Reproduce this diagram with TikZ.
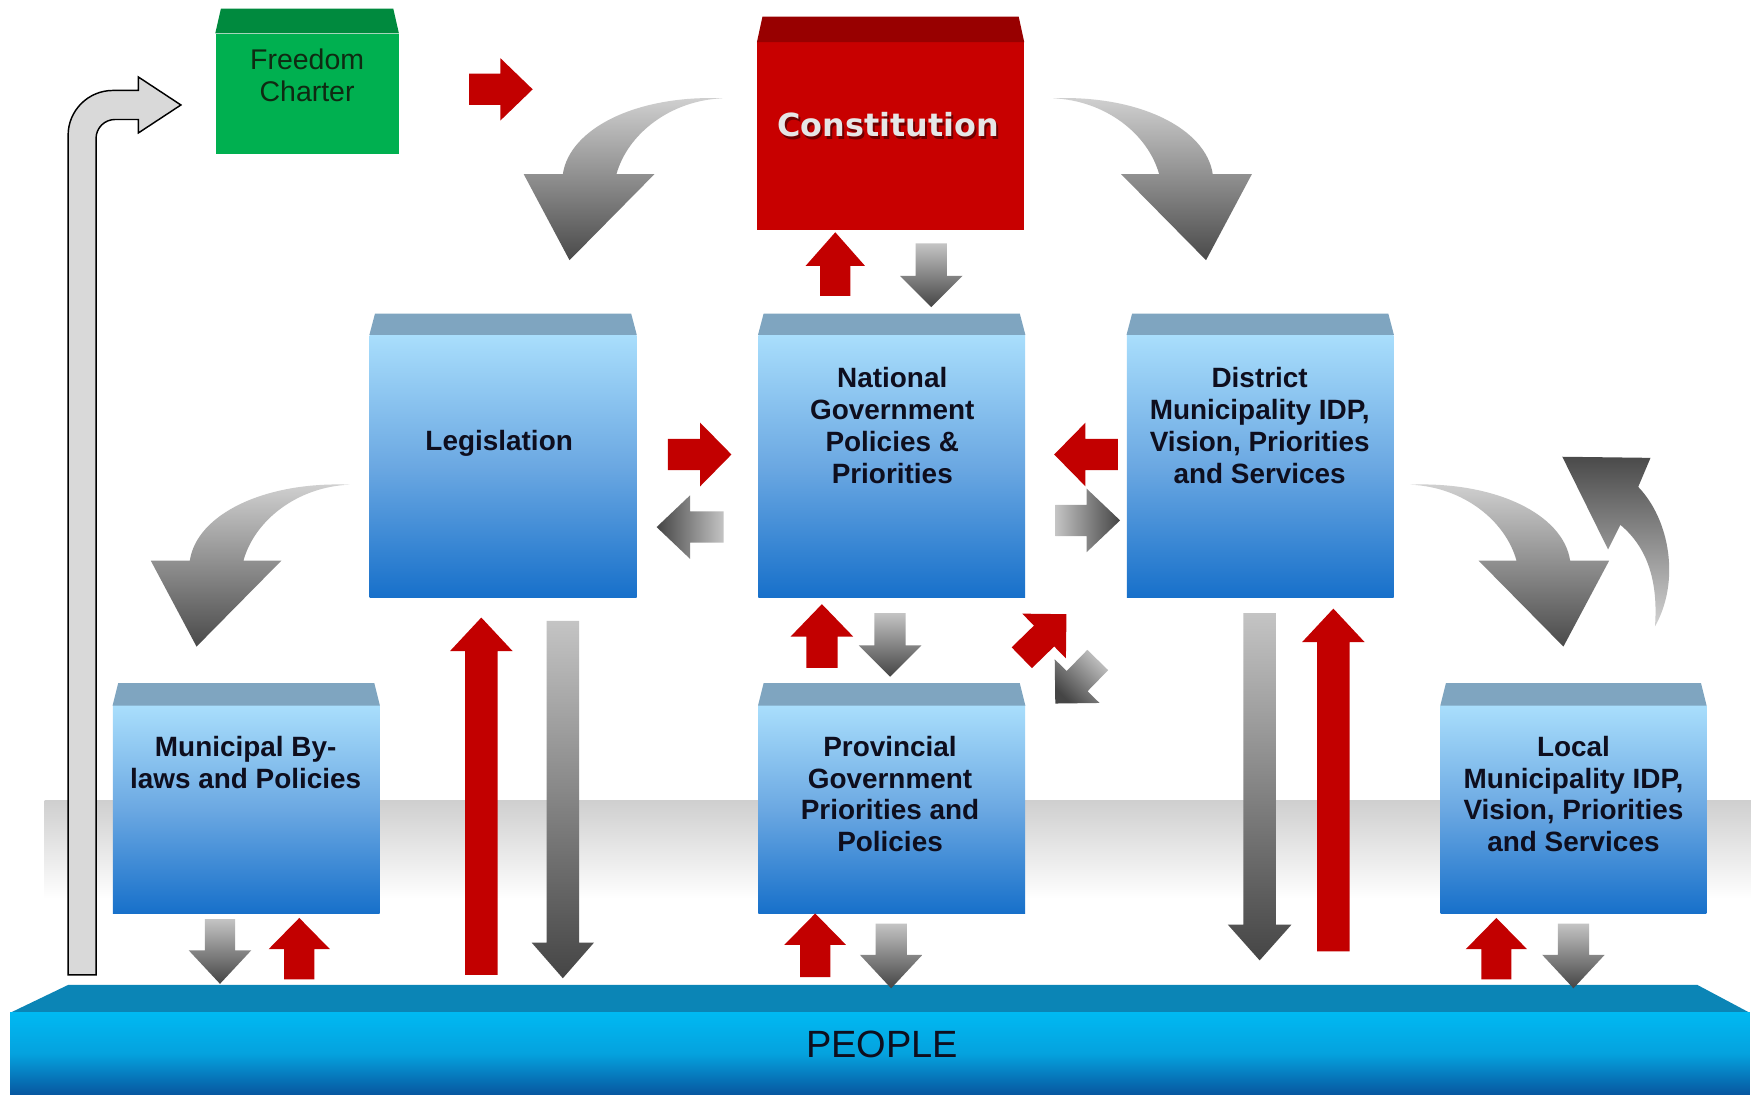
\documentclass[tikz,border=0pt]{standalone}
\usepackage{fontspec}
\setmainfont{Liberation Sans}
\newfontfamily\headfont{DejaVu Sans}
\usetikzlibrary{calc}

\definecolor{boxhi}{HTML}{A9DEFC}
\definecolor{boxmid}{HTML}{6BA8E2}
\definecolor{boxlo}{HTML}{1770CA}
\definecolor{boxlid}{HTML}{7FA5C0}
\definecolor{boxtext}{HTML}{0E0E1E}
\definecolor{conred}{HTML}{C80000}
\definecolor{conlid}{HTML}{980000}
\definecolor{conshadow}{HTML}{5A0000}
\definecolor{context}{HTML}{E6E6E6}
\definecolor{chgreen}{HTML}{00B050}
\definecolor{chlid}{HTML}{008A3E}
\definecolor{chtext}{HTML}{0F2A12}
\definecolor{arrred}{HTML}{C20000}
\definecolor{grlight}{HTML}{C4C4C4}
\definecolor{grdark}{HTML}{454545}
\definecolor{cvlight}{HTML}{D2D2D2}
\definecolor{cvdark}{HTML}{4A4A4A}
\definecolor{bentfill}{HTML}{D9D9D9}
\definecolor{peolid}{HTML}{0B85B6}
\definecolor{peohi}{HTML}{00B9F2}
\definecolor{peomid}{HTML}{05A2DE}
\definecolor{peolo}{HTML}{0757A0}
\definecolor{bandgray}{HTML}{CFCFCF}

% block arrow: style, tail, tip, half shaft width, half head width, head length
\newcommand\blockarrow[6]{%
  \path #2 coordinate (ba-a) #3 coordinate (ba-b);
  \path ($(ba-b)!#6pt!(ba-a)$) coordinate (ba-m);
  \path[#1] ($(ba-a)!#4pt!90:(ba-b)$) -- ($(ba-m)!#4pt!90:(ba-b)$)
    -- ($(ba-m)!#5pt!90:(ba-b)$) -- (ba-b) -- ($(ba-m)!#5pt!-90:(ba-b)$)
    -- ($(ba-m)!#4pt!-90:(ba-b)$) -- ($(ba-a)!#4pt!-90:(ba-b)$) -- cycle;}

% slanted lid on top of a box node: node, lid height, colour
\newcommand\boxlid[3]{%
  \fill[#3] (#1.north west) -- (#1.north east)
    -- ([xshift=-5pt,yshift=#2pt]#1.north east)
    -- ([xshift=5pt,yshift=#2pt]#1.north west) -- cycle;}

% curved arrow swinging down to the left
\newcommand\curvedarrow{%
  \path[top color=cvlight, bottom color=cvdark]
    (469,156) -- (510,233) -- (586,156) -- (552,156)
    .. controls (562,120) and (600,90) .. (647,88)
    .. controls (570,85) and (510,115) .. (504,156) -- cycle;}

\begin{document}
\begin{tikzpicture}[x=1pt,y=-1pt,
  bluebox/.style={rectangle, inner sep=0pt, top color=boxhi, bottom color=boxlo, middle color=boxmid},
  boxlabel/.style={align=center, inner sep=0pt, text=boxtext,
    font=\fontsize{25}{28.5}\selectfont\bfseries},
  redarr/.style={fill=arrred},
  graydown/.style={top color=grlight, bottom color=grdark},
  grayleft/.style={left color=grdark, right color=grlight},
  grayright/.style={left color=grlight, right color=grdark},
  graydiag/.style={top color=grlight, bottom color=grdark, shading angle=-45}]

\useasboundingbox (0,0) rectangle (1568,980);
\fill[white] (0,0) rectangle (1568,980);

% grey floor band
\shade[top color=bandgray, bottom color=white] (40,717) rectangle (1568,805);

% people platform
\fill[peolid] (61,882) -- (1520,882) -- (1567,907) -- (9,907) -- cycle;
\node[rectangle, inner sep=0pt, minimum width=1558pt, minimum height=73pt,
  top color=peohi, bottom color=peolo, middle color=peomid] (people) at (788,943.5) {};
\node[font=\fontsize{34}{36}\selectfont, text=boxtext] (people-t) at (790,935) {PEOPLE};

% bent return arrow
\draw[fill=bentfill, draw=black, line width=1.3pt, line join=miter]
  (61,873) -- (61,121) .. controls (61,99) and (79,81) .. (101,81)
  -- (124,81) -- (124,69) -- (162,94) -- (124,119) -- (124,107) -- (103,107)
  .. controls (93.6,107) and (86,114.6) .. (86,124) -- (86,873) -- cycle;

% Freedom Charter
\node[rectangle, inner sep=0pt, minimum width=164pt, minimum height=108pt, fill=chgreen] (fc) at (275,84) {};
\boxlid{fc}{22}{chlid}
\node[align=center, inner sep=0pt, text=chtext, font=\fontsize{25.5}{29}\selectfont] (fc-t) at (275,67.5) {Freedom\\Charter};

% Constitution
\node[rectangle, inner sep=0pt, minimum width=239pt, minimum height=168pt, fill=conred] (con) at (797.5,122) {};
\boxlid{con}{23}{conlid}
\node[font=\headfont\bfseries\fontsize{28.5}{30}\selectfont, text=conshadow, opacity=0.8] (con-s) at (797,114) {Constitution};
\node[font=\headfont\bfseries\fontsize{28.5}{30}\selectfont, text=context] (con-t) at (795.5,112) {Constitution};

% second row
\node[bluebox, minimum width=239pt, minimum height=235pt] (leg) at (450.5,417.5) {};
\node[bluebox, minimum width=239pt, minimum height=235pt] (nat) at (798.5,417.5) {};
\node[bluebox, minimum width=239pt, minimum height=235pt] (dis) at (1128.5,417.5) {};
\boxlid{leg}{19}{boxlid}
\boxlid{nat}{19}{boxlid}
\boxlid{dis}{19}{boxlid}
\node[boxlabel] (leg-t) at (447,397) {Legislation};
\node[boxlabel] (nat-t) at (799,381) {National\\Government\\Policies \&\\Priorities};
\node[boxlabel] (dis-t) at (1128,381) {District\\Municipality IDP,\\Vision, Priorities\\and Services};

% third row
\node[bluebox, minimum width=239pt, minimum height=186pt] (mun) at (220.5,725) {};
\node[bluebox, minimum width=239pt, minimum height=186pt] (prov) at (798.5,725) {};
\node[bluebox, minimum width=238pt, minimum height=186pt] (loc) at (1409,725) {};
\boxlid{mun}{20}{boxlid}
\boxlid{prov}{20}{boxlid}
\boxlid{loc}{20}{boxlid}
\node[boxlabel] (mun-t) at (220,683) {Municipal By-\\laws and Policies};
\node[boxlabel] (prov-t) at (797,711) {Provincial\\Government\\Priorities and\\Policies};
\node[boxlabel] (loc-t) at (1409,711) {Local\\Municipality IDP,\\Vision, Priorities\\and Services};

% curved flow arrows
\curvedarrow
\begin{scope}[shift={(1590,0)}, xscale=-1]\curvedarrow\end{scope}
\begin{scope}[shift={(-334,346)}]\curvedarrow\end{scope}
\begin{scope}[shift={(1910,346)}, xscale=-1]\curvedarrow\end{scope}
\path[top color=cvdark, bottom color=cvlight]
  (1399,409) -- (1478,410) -- (1467,436)
  .. controls (1495,465) and (1505,520) .. (1482,561)
  .. controls (1485,520) and (1475,490) .. (1451,470)
  -- (1440,492) -- cycle;

% short exchange arrows
\blockarrow{redarr}{(420,80)}{(477,80)}{14}{28}{29}
\blockarrow{redarr}{(748,265)}{(748,208)}{13.5}{26.5}{30}
\blockarrow{graydown}{(834,218)}{(834,275)}{14}{28}{28}
\blockarrow{redarr}{(598,407)}{(655,407)}{14}{28.5}{28}
\blockarrow{grayleft}{(648,472)}{(588,472)}{14}{28.5}{30}
\blockarrow{redarr}{(1001,407)}{(944,407)}{14}{28.5}{28}
\blockarrow{grayright}{(945,466)}{(1003,466)}{14}{28.5}{30}
\blockarrow{redarr}{(736,598)}{(736,541)}{14}{28}{29}
\blockarrow{graydown}{(797,549)}{(797,606)}{14}{28}{28}
\blockarrow{redarr}{(915,589)}{(955,550)}{13}{28}{28}
\blockarrow{graydiag}{(983,591)}{(945,630)}{13}{28}{28}

% long arrows between the people and the middle row
\blockarrow{redarr}{(431,873)}{(431,553)}{14.5}{28}{30}
\blockarrow{graydown}{(504,556)}{(504,876)}{14.5}{28}{32}
\blockarrow{graydown}{(1128,549)}{(1128,860)}{14.5}{28.5}{32}
\blockarrow{redarr}{(1194,852)}{(1194,545)}{14.5}{28}{30}

% short arrows between the people and the bottom row
\blockarrow{graydown}{(197,823)}{(197,881)}{13.5}{28}{30}
\blockarrow{redarr}{(268,877)}{(268,822)}{13.5}{27.5}{28}
\blockarrow{redarr}{(730,875)}{(730,818)}{13.5}{27.5}{28}
\blockarrow{graydown}{(798,827)}{(798,885)}{14}{28}{30}
\blockarrow{redarr}{(1340,877)}{(1340,822)}{13.5}{27.5}{28}
\blockarrow{graydown}{(1409,827)}{(1409,885)}{14}{28}{30}

\end{tikzpicture}
\end{document}
